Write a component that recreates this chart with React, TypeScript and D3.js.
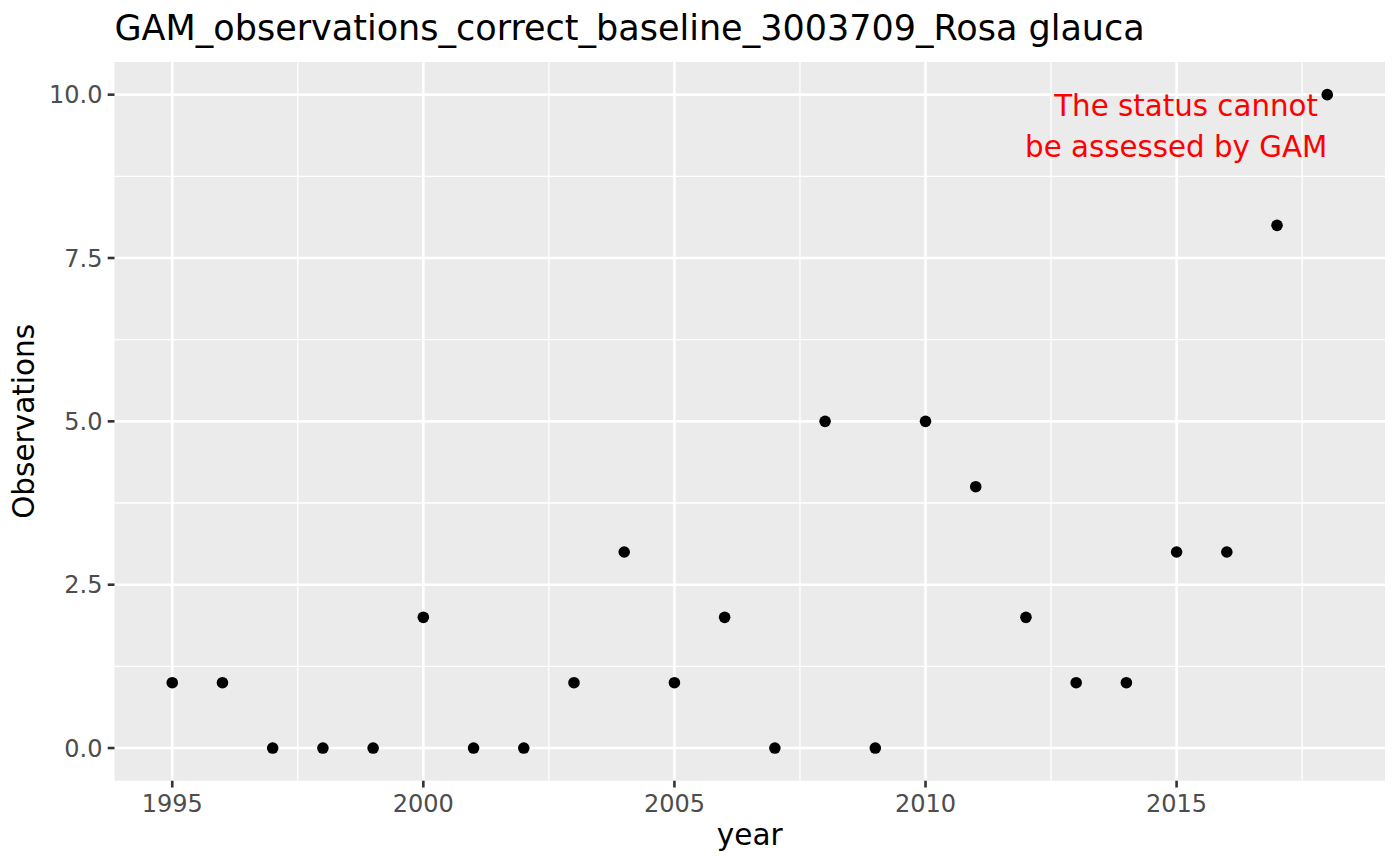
import React from "react";
import * as d3 from "d3";

const years = [1995,1996,1997,1998,1999,2000,2001,2002,2003,2004,2005,2006,2007,2008,2009,2010,2011,2012,2013,2014,2015,2016,2017,2018];
const observations = [1,1,0,0,0,2,0,0,1,3,1,2,0,5,0,5,4,2,1,1,3,3,8,10];
const xTicks = [1995, 2000, 2005, 2010, 2015];
const xMinor = [1997.5, 2002.5, 2007.5, 2012.5, 2017.5];
const yTicks = [0, 2.5, 5, 7.5, 10];
const yMinor = [1.25, 3.75, 6.25, 8.75];
const title = "GAM_observations_correct_baseline_3003709_Rosa glauca";
const noteLines = ["The status cannot ", "be assessed by GAM"];

export default function App() {
  const W = 1400, H = 865;
  const left = 114.5, right = 1385, top = 62, bottom = 780.7;
  const x = d3.scaleLinear().domain([1995 - 1.15, 2018 + 1.15]).range([left, right]);
  const y = d3.scaleLinear().domain([-0.5, 10.5]).range([bottom, top]);
  const font = "'DejaVu Sans', sans-serif";
  return (
    <svg width={W} height={H} style={{ position: "absolute", left: 0, top: 0, background: "#fff" }} fontFamily={font}>
      <rect x={left} y={top} width={right - left} height={bottom - top} fill="#EBEBEB" />
      {xMinor.map(v => <line key={"xm" + v} x1={x(v)} x2={x(v)} y1={top} y2={bottom} stroke="#fff" strokeWidth={1.3} />)}
      {yMinor.map(v => <line key={"ym" + v} x1={left} x2={right} y1={y(v)} y2={y(v)} stroke="#fff" strokeWidth={1.3} />)}
      {xTicks.map(v => <line key={"xM" + v} x1={x(v)} x2={x(v)} y1={top} y2={bottom} stroke="#fff" strokeWidth={2.6} />)}
      {yTicks.map(v => <line key={"yM" + v} x1={left} x2={right} y1={y(v)} y2={y(v)} stroke="#fff" strokeWidth={2.6} />)}
      {years.map((yr, i) => <circle key={yr} cx={x(yr)} cy={y(observations[i])} r={5.8} fill="#000" />)}
      {noteLines.map((t, i) => (
        <text key={i} x={x(2018)} y={115.7 + i * 41} textAnchor="end" fill="#FF0000" fontSize={29.3} style={{ whiteSpace: "pre" }}>{t}</text>
      ))}
      {xTicks.map(v => (
        <g key={"xt" + v}>
          <line x1={x(v)} x2={x(v)} y1={bottom} y2={bottom + 6.8} stroke="#333" strokeWidth={2.6} />
          <text x={x(v)} y={811.7} textAnchor="middle" fill="#4D4D4D" fontSize={24}>{v}</text>
        </g>
      ))}
      {yTicks.map(v => (
        <g key={"yt" + v}>
          <line x1={left - 6.8} x2={left} y1={y(v)} y2={y(v)} stroke="#333" strokeWidth={2.6} />
          <text x={left - 12} y={y(v)} dy="0.36em" textAnchor="end" fill="#4D4D4D" fontSize={24}>{d3.format(".1f")(v)}</text>
        </g>
      ))}
      <text x={(left + right) / 2} y={845} textAnchor="middle" fill="#000" fontSize={29.5}>year</text>
      <text transform={`translate(34,${(top + bottom) / 2}) rotate(-90)`} textAnchor="middle" fill="#000" fontSize={29.5}>Observations</text>
      <text x={left} y={40} fill="#000" fontSize={35}>{title}</text>
    </svg>
  );
}
